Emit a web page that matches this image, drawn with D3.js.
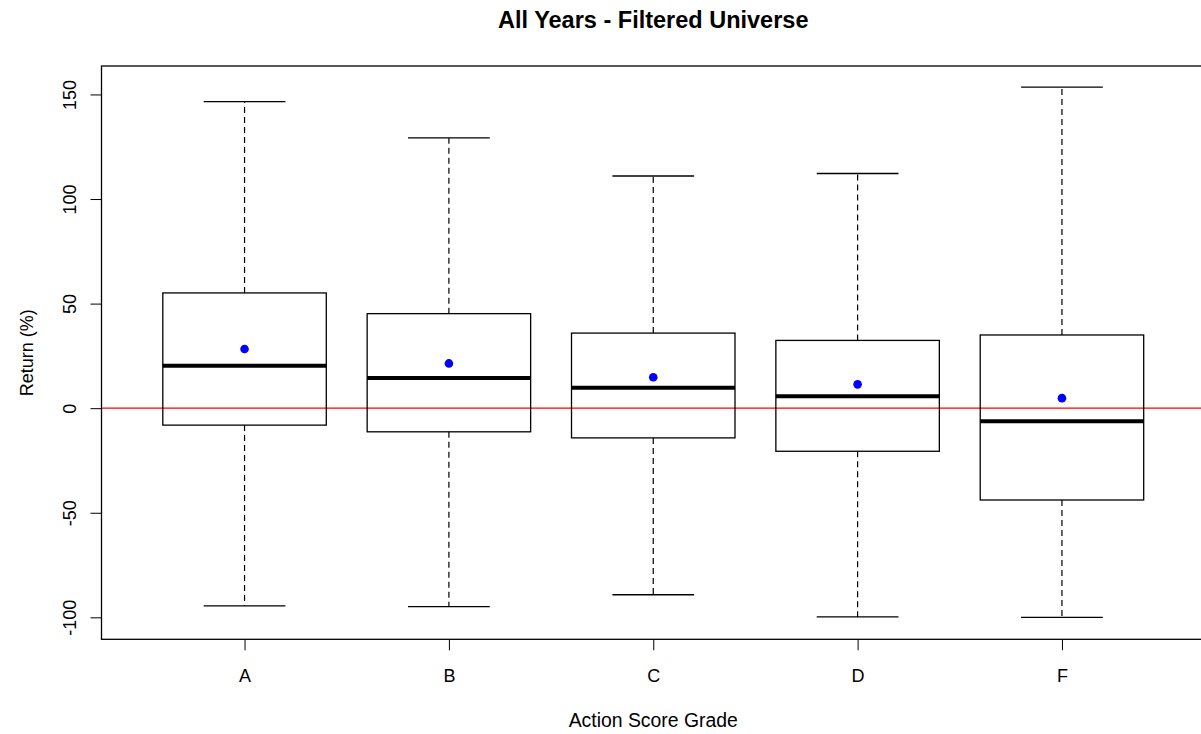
<!DOCTYPE html>
<html lang="en">
<head>
  <meta charset="UTF-8" />
  <script src="https://d3js.org/d3.v7.min.js"></script>
  <title>All Years - Filtered Universe</title>
  <style>
    body { margin: 0; background: #fff; }
    svg { display: block; font-family: "Liberation Sans", Arial, sans-serif; }
  </style>
</head>
<body>
  <div id="chart"></div>
  <script>
    // values (return in %)
    const grades = ["A", "B", "C", "D", "F"];
    const upperWhisker = [146.6, 129.2, 111.0, 112.2, 153.5];
    const q3 = [55.1, 45.2, 35.9, 32.4, 35.0];
    const median = [20.3, 14.4, 9.8, 5.7, -6.3];
    const q1 = [-8.1, -11.3, -14.2, -20.6, -43.9];
    const lowerWhisker = [-94.5, -94.9, -89.2, -99.8, -100.0];
    const means = [28.3, 21.4, 14.8, 11.4, 4.8];
    const yTicks = [-100, -50, 0, 50, 100, 150];

    const width = 1201, height = 734;
    const plot = { left: 101.5, right: 1205, top: 66, bottom: 639.3 };

    const data = grades.map((g, i) => ({
      grade: g, pos: i + 1,
      hi: upperWhisker[i], q3: q3[i], med: median[i], q1: q1[i], lo: lowerWhisker[i], mean: means[i]
    }));

    const svg = d3.select("#chart").append("svg")
      .attr("width", width)
      .attr("height", height);

    const x = d3.scaleLinear()
      .domain([0.3, grades.length + 0.7])
      .range([plot.left, plot.right]);

    const y = d3.scaleLinear()
      .domain([-110.5, 163.6])
      .range([plot.bottom, plot.top]);

    const boxW = x(0.8) - x(0);
    const capW = x(0.4) - x(0);

    // axes
    const yAxis = svg.append("g")
      .attr("transform", `translate(${plot.left},0)`)
      .call(d3.axisLeft(y).tickValues(yTicks).tickFormat(d => String(d))
        .tickSize(11).tickSizeOuter(0));
    yAxis.select(".domain").remove();
    yAxis.selectAll("line").attr("stroke", "#000");
    yAxis.selectAll("text")
      .attr("font-family", "Liberation Sans, Arial, sans-serif")
      .attr("font-size", "18px")
      .attr("fill", "#000")
      .attr("text-anchor", "middle")
      .attr("dy", null)
      .attr("x", null)
      .attr("transform", "translate(-26,0) rotate(-90)");

    const xAxis = svg.append("g")
      .attr("transform", `translate(0,${plot.bottom})`)
      .call(d3.axisBottom(x).tickValues(data.map(d => d.pos))
        .tickFormat((d, i) => grades[i]).tickSize(11).tickSizeOuter(0));
    xAxis.select(".domain").remove();
    xAxis.selectAll("line").attr("stroke", "#000");
    xAxis.selectAll("text")
      .attr("font-family", "Liberation Sans, Arial, sans-serif")
      .attr("font-size", "18px")
      .attr("fill", "#000")
      .attr("dy", null)
      .attr("y", 43);

    // zero reference line
    svg.append("line")
      .attr("x1", plot.left).attr("x2", plot.right)
      .attr("y1", y(0)).attr("y2", y(0))
      .attr("stroke", "#ff0000")
      .attr("stroke-width", 1.2);

    const g = svg.selectAll(".box")
      .data(data)
      .enter()
      .append("g")
      .attr("class", "box");

    // whiskers
    g.append("line")
      .attr("x1", d => x(d.pos)).attr("x2", d => x(d.pos))
      .attr("y1", d => y(d.q3)).attr("y2", d => y(d.hi))
      .attr("stroke", "#000").attr("stroke-width", 1.2)
      .attr("stroke-dasharray", "6,4");
    g.append("line")
      .attr("x1", d => x(d.pos)).attr("x2", d => x(d.pos))
      .attr("y1", d => y(d.q1)).attr("y2", d => y(d.lo))
      .attr("stroke", "#000").attr("stroke-width", 1.2)
      .attr("stroke-dasharray", "6,4");

    // caps
    g.append("line")
      .attr("x1", d => x(d.pos) - capW / 2).attr("x2", d => x(d.pos) + capW / 2)
      .attr("y1", d => y(d.hi)).attr("y2", d => y(d.hi))
      .attr("stroke", "#000").attr("stroke-width", 1.3);
    g.append("line")
      .attr("x1", d => x(d.pos) - capW / 2).attr("x2", d => x(d.pos) + capW / 2)
      .attr("y1", d => y(d.lo)).attr("y2", d => y(d.lo))
      .attr("stroke", "#000").attr("stroke-width", 1.3);

    // boxes
    g.append("rect")
      .attr("x", d => x(d.pos) - boxW / 2)
      .attr("width", boxW)
      .attr("y", d => y(d.q3))
      .attr("height", d => y(d.q1) - y(d.q3))
      .attr("fill", "none")
      .attr("stroke", "#000")
      .attr("stroke-width", 1.3);

    // medians
    g.append("line")
      .attr("x1", d => x(d.pos) - boxW / 2).attr("x2", d => x(d.pos) + boxW / 2)
      .attr("y1", d => y(d.med)).attr("y2", d => y(d.med))
      .attr("stroke", "#000").attr("stroke-width", 4);

    // means
    g.append("circle")
      .attr("cx", d => x(d.pos))
      .attr("cy", d => y(d.mean))
      .attr("r", 4.3)
      .attr("fill", "#0000ff");

    // frame
    svg.append("rect")
      .attr("x", plot.left).attr("y", plot.top)
      .attr("width", plot.right - plot.left)
      .attr("height", plot.bottom - plot.top)
      .attr("fill", "none")
      .attr("stroke", "#000")
      .attr("stroke-width", 1.3);

    // titles
    const cx = (plot.left + plot.right) / 2;
    svg.append("text")
      .attr("x", cx).attr("y", 28)
      .attr("text-anchor", "middle")
      .attr("font-size", "23.5px")
      .attr("font-weight", "bold")
      .text("All Years - Filtered Universe");

    svg.append("text")
      .attr("x", cx).attr("y", 727)
      .attr("text-anchor", "middle")
      .attr("font-size", "19.4px")
      .text("Action Score Grade");

    svg.append("text")
      .attr("transform", `translate(33,${(plot.top + plot.bottom) / 2}) rotate(-90)`)
      .attr("text-anchor", "middle")
      .attr("font-size", "18px")
      .text("Return (%)");
  </script>
</body>
</html>
